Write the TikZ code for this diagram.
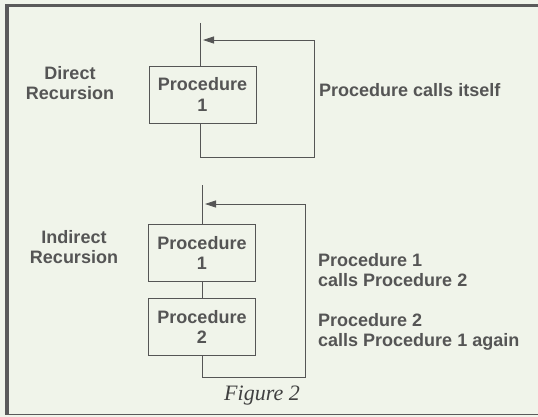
\documentclass[tikz,border=0pt]{standalone}
\usepackage{fontspec}
\setmainfont{Liberation Sans}
\newfontfamily\figfont{Liberation Serif}
\usetikzlibrary{arrows.meta}
\definecolor{bgcol}{HTML}{F0F4EA}
\definecolor{inkcol}{HTML}{555555}
\definecolor{framecol}{HTML}{5A5A5A}
\tikzset{
  procbox/.style={draw=inkcol, line width=0.8pt, minimum width=107pt, minimum height=57pt,
    inner sep=0pt, align=center, font=\fontsize{18}{20.5}\selectfont\bfseries, text=inkcol},
  lbl/.style={align=center, font=\fontsize{18}{20}\selectfont\bfseries, text=inkcol, inner sep=0pt},
  lblL/.style={align=left, font=\fontsize{18}{20}\selectfont\bfseries, text=inkcol, inner sep=0pt, anchor=west},
  conn/.style={draw=inkcol, line width=0.8pt},
  arr/.style={conn, -{Triangle[length=11pt,width=7pt]}},
}
\begin{document}
\begin{tikzpicture}[x=1pt,y=-1pt]
\useasboundingbox (0,0) rectangle (538,417);
\fill[bgcol] (0,0) rectangle (538,417);
% frame
\fill[framecol] (5,4) rectangle (538,7.5);
\fill[framecol] (5,4) rectangle (8.5,415);
\draw[framecol, line width=0.8pt] (5,414.5) -- (538,414.5);

% Direct recursion
\node[lbl] (dlab) at (70,83) {Direct\\Recursion};
\node[procbox] (d1) at (202.5,94.5) {Procedure\\1};
\node[lblL] (dtext) at (319,90) {Procedure calls itself};
\coordinate (dtop) at (200,23);
\coordinate (dbl) at (200,157);
\coordinate (dbr) at (314,157);
\coordinate (dtr) at (314,40);
\coordinate (dtip) at (203,40);
\draw[conn] (dtop) -- (dtop |- d1.north);
\draw[conn] (dbl |- d1.south) -- (dbl) -- (dbr) -- (dtr);
\draw[arr] (dtr) -- (dtip);

% Indirect recursion
\node[lbl] (ilab) at (74,247) {Indirect\\Recursion};
\node[procbox] (i1) at (202,253) {Procedure\\1};
\node[procbox] (i2) at (202,327) {Procedure\\2};
\node[lblL] (itext1) at (318,270) {Procedure 1\\calls Procedure 2};
\node[lblL] (itext2) at (318,332) {Procedure 2\\calls Procedure 1 again};
\coordinate (itop) at (202,185);
\coordinate (ibl) at (202,377);
\coordinate (ibr) at (305,377);
\coordinate (itr) at (305,204);
\coordinate (itip) at (205,204);
\draw[conn] (itop) -- (i1.north);
\draw[conn] (i1.south) -- (i2.north);
\draw[conn] (i2.south) -- (ibl) -- (ibr) -- (itr);
\draw[arr] (itr) -- (itip);

\node[font=\figfont\itshape\fontsize{22}{24}\selectfont, text=black!75, inner sep=0pt] (fig) at (262,396) {Figure 2};
\end{tikzpicture}
\end{document}
